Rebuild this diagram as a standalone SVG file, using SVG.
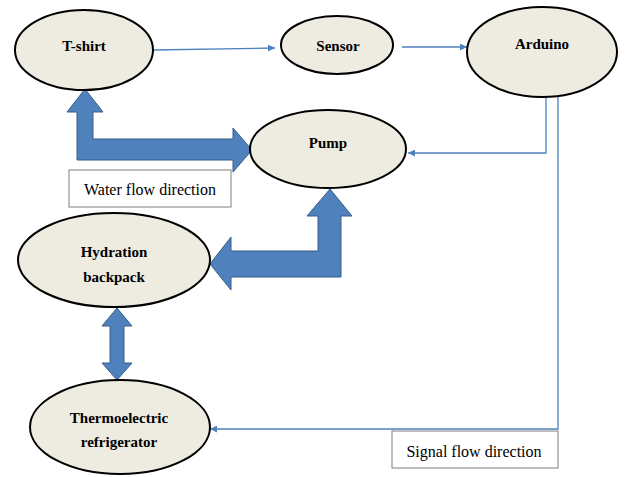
<svg xmlns="http://www.w3.org/2000/svg" width="625" height="477" viewBox="0 0 625 477">
<style>
.node ellipse{fill:#EEECE1;stroke:#000;stroke-width:2}
.lbl{font-family:"Liberation Serif","DejaVu Serif",serif;font-weight:bold;font-size:15px;text-anchor:middle;fill:#000}
.note rect{fill:#fff;stroke:#7f7f7f;stroke-width:1}
.note text{font-family:"Liberation Serif","DejaVu Serif",serif;font-size:16px;text-anchor:middle;fill:#000}
.sig{fill:none;stroke:#4F81BD;stroke-width:1.3;marker-end:url(#ah)}
.flow{fill:#4F81BD;stroke:#385D8A;stroke-width:1}
</style>
<defs>
<marker id="ah" viewBox="0 0 10 10" refX="10" refY="5" markerWidth="7" markerHeight="7" markerUnits="userSpaceOnUse" orient="auto">
<path d="M0,0 L10,5 L0,10 z" fill="#4F81BD"/>
</marker>
</defs>
<rect width="625" height="477" fill="#fff"/>
<g id="connectors">
<path class="sig" d="M152,50 L275,48"/>
<path class="sig" d="M402,47 L467,47"/>
<path class="sig" d="M546,97 L546,153 L408,153"/>
<path class="sig" d="M558,97 L558,429 L210,429"/>
<path class="flow" d="M85,89 L103,112 L93,112 L93,139 L233,139 L233,128 L252,150 L233,172 L233,160 L77,160 L77,112 L67,112 Z"/>
<path class="flow" d="M330,189 L352,216 L341,216 L341,277 L231,277 L231,290 L210,264 L231,237 L231,251 L318,251 L318,216 L307,216 Z"/>
<path class="flow" d="M117,308 L132,326 L124,326 L124,363 L132,363 L117,380 L102,363 L110,363 L110,326 L102,326 Z"/>
</g>
<g id="tshirt" class="node"><ellipse cx="84" cy="50" rx="69" ry="40"/><text class="lbl" x="84" y="51">T-shirt</text></g>
<g id="sensor" class="node"><ellipse cx="337" cy="45" rx="56" ry="29"/><text class="lbl" x="338" y="51">Sensor</text></g>
<g id="arduino" class="node"><ellipse cx="542" cy="52" rx="75" ry="45"/><text class="lbl" x="542" y="49">Arduino</text></g>
<g id="pump" class="node"><ellipse cx="328" cy="149" rx="78" ry="39"/><text class="lbl" x="328" y="148">Pump</text></g>
<g id="backpack" class="node"><ellipse cx="114" cy="260" rx="96" ry="47"/><text class="lbl" x="114" y="257">Hydration</text><text class="lbl" x="114" y="282">backpack</text></g>
<g id="refrigerator" class="node"><ellipse cx="120" cy="427" rx="90" ry="47"/><text class="lbl" x="119" y="423">Thermoelectric</text><text class="lbl" x="119" y="447">refrigerator</text></g>
<g id="water-note" class="note"><rect x="69" y="170" width="162" height="37"/><text x="150" y="195">Water flow direction</text></g>
<g id="signal-note" class="note"><rect x="392" y="431" width="166" height="37"/><text x="474" y="457">Signal flow direction</text></g>
</svg>
